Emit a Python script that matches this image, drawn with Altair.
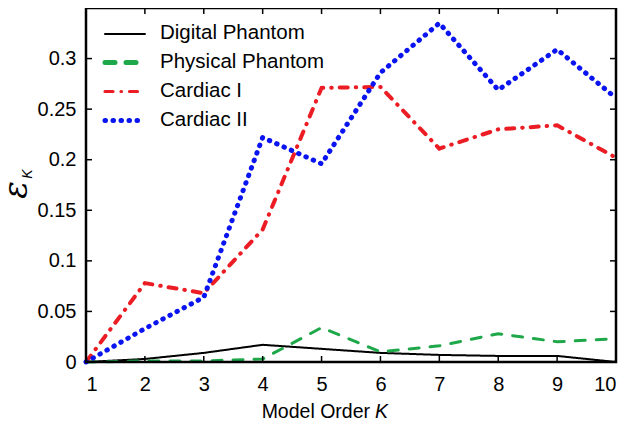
import altair as alt
import pandas as pd

orders = list(range(1, 11))
series_names = ["Digital Phantom", "Physical Phantom", "Cardiac I", "Cardiac II"]
digital = [0.0, 0.003, 0.009, 0.017, 0.013, 0.009, 0.007, 0.006, 0.006, 0.0]
physical = [0.0, 0.001, 0.001, 0.003, 0.034, 0.010, 0.016, 0.028, 0.020, 0.023]
cardiac1 = [0.0, 0.078, 0.068, 0.131, 0.271, 0.272, 0.211, 0.230, 0.234, 0.202]
cardiac2 = [0.0, 0.033, 0.064, 0.222, 0.196, 0.286, 0.335, 0.269, 0.309, 0.261]
x_ticks = list(range(1, 11))
y_ticks = [0.0, 0.05, 0.1, 0.15, 0.2, 0.25, 0.3]
x_range = [1, 10]
y_range = [0, 0.35]

colors = ["#000000", "#1fa84a", "#ec1c24", "#0a14f0"]
dashes = [[1, 0], [10, 11], [8, 8, 0.5, 8], [0.5, 7.5]]
widths = [2, 5, 3.2, 5]

rows = []
for name, vals in zip(series_names, [digital, physical, cardiac1, cardiac2]):
    for k, v in zip(orders, vals):
        rows.append({"K": k, "eps": v, "series": name})
df = pd.DataFrame(rows)

W, H = 530, 354
FONT = "Liberation Sans"
xscale = alt.Scale(domain=x_range, nice=False)
yscale = alt.Scale(domain=y_range, nice=False)

lines = alt.Chart(df).mark_line(strokeCap="round").encode(
    x=alt.X("K:Q", scale=xscale, axis=alt.Axis(
        values=x_ticks, ticks=False, domain=False, grid=False, title=None,
        labelFontSize=20, labelFont=FONT, labelColor="black", labelPadding=12,
        labelExpr="format(datum.value, 'd')")),
    y=alt.Y("eps:Q", scale=yscale, axis=alt.Axis(
        values=y_ticks, ticks=False, domain=False, grid=False, title=None,
        labelFontSize=20, labelFont=FONT, labelColor="black", labelPadding=10,
        labelExpr="format(datum.value, '.2~f')")),
    color=alt.Color("series:N", scale=alt.Scale(domain=series_names, range=colors), legend=None),
    strokeDash=alt.StrokeDash("series:N", scale=alt.Scale(domain=series_names, range=dashes), legend=None),
    strokeWidth=alt.StrokeWidth("series:N", scale=alt.Scale(domain=series_names, range=widths), legend=None),
    order="K:Q",
)

# plot frame: a closed path through the corners of the axis ranges
frame_df = pd.DataFrame({
    "K": [x_range[0], x_range[1], x_range[1], x_range[0], x_range[0]],
    "eps": [y_range[0], y_range[0], y_range[1], y_range[1], y_range[0]],
    "o": [0, 1, 2, 3, 4],
})
frame = alt.Chart(frame_df).mark_line(
    color="black", strokeWidth=2.5, strokeJoin="miter", strokeCap="square"
).encode(
    x=alt.X("K:Q", scale=xscale), y=alt.Y("eps:Q", scale=yscale), order="o:Q"
)

xt = pd.DataFrame({"K": x_ticks})
yt = pd.DataFrame({"eps": y_ticks[1:]})
tl = 6
tick_bottom = alt.Chart(xt).mark_rule(color="black", strokeWidth=1.5).encode(
    x=alt.X("K:Q", scale=xscale), y=alt.value(H), y2=alt.value(H - tl))
tick_top = alt.Chart(xt).mark_rule(color="black", strokeWidth=1.5).encode(
    x=alt.X("K:Q", scale=xscale), y=alt.value(0), y2=alt.value(tl))
tick_left = alt.Chart(yt).mark_rule(color="black", strokeWidth=1.5).encode(
    y=alt.Y("eps:Q", scale=yscale), x=alt.value(0), x2=alt.value(tl))
tick_right = alt.Chart(yt).mark_rule(color="black", strokeWidth=1.5).encode(
    y=alt.Y("eps:Q", scale=yscale), x=alt.value(W), x2=alt.value(W - tl))

# legend (drawn by hand so the round-capped dot patterns show)
legend_layers = []
row_y = [25, 53.5, 82.5, 111.5]
for i, name in enumerate(series_names):
    one = pd.DataFrame({"series": [name]})
    legend_layers.append(
        alt.Chart(one).mark_rule(
            color=colors[i], strokeDash=dashes[i], strokeWidth=widths[i], strokeCap="round"
        ).encode(x=alt.value(19), x2=alt.value(59), y=alt.value(row_y[i] + 1))
    )
    legend_layers.append(
        alt.Chart(one).mark_text(
            align="left", baseline="middle", fontSize=20.5, font=FONT, color="black"
        ).encode(text="series:N", x=alt.value(74), y=alt.value(row_y[i]))
    )

xtitle1 = alt.Chart(pd.DataFrame({"t": ["Model Order"]})).mark_text(
    align="right", baseline="alphabetic", fontSize=19.5, font=FONT, color="black"
).encode(text="t:N", x=alt.value(284), y=alt.value(410))
xtitle2 = alt.Chart(pd.DataFrame({"t": ["K"]})).mark_text(
    align="left", baseline="alphabetic", fontSize=19.5, font=FONT, fontStyle="italic", color="black"
).encode(text="t:N", x=alt.value(289), y=alt.value(410))
ytitle1 = alt.Chart(pd.DataFrame({"t": ["ε"]})).mark_text(
    align="center", baseline="alphabetic", angle=270, fontSize=33, font="DejaVu Serif",
    fontStyle="italic", color="black"
).encode(text="t:N", x=alt.value(-59), y=alt.value(182))
ytitle2 = alt.Chart(pd.DataFrame({"t": ["K"]})).mark_text(
    align="center", baseline="alphabetic", angle=270, fontSize=14, font=FONT,
    fontStyle="italic", color="black"
).encode(text="t:N", x=alt.value(-54), y=alt.value(166))

chart = alt.layer(
    lines, tick_bottom, tick_top, tick_left, tick_right, frame, *legend_layers,
    xtitle1, xtitle2, ytitle1, ytitle2
).properties(
    width=W, height=H,
    autosize=alt.AutoSizeParams(type="none"),
    padding={"left": 78, "top": 0, "right": 9, "bottom": 62},
).configure(background="white").configure_view(stroke=None)

chart.save("out.html", embed_options={"renderer": "svg", "actions": False})
